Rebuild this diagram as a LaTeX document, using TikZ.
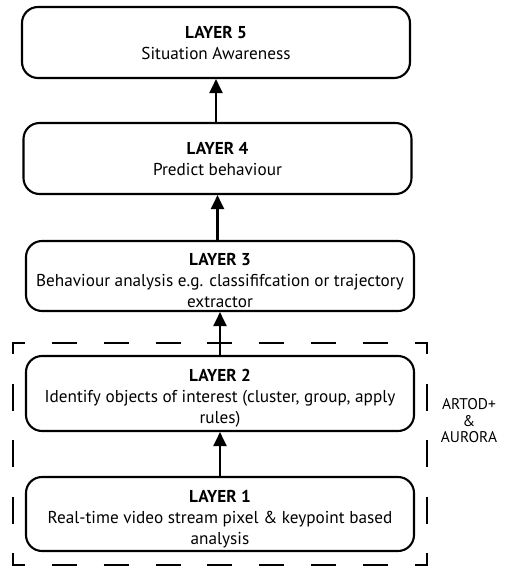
\documentclass[tikz,border=0pt]{standalone}
\usepackage{fontspec}
\setmainfont{PT Sans}
\usetikzlibrary{arrows.meta}
% taller first line, which lowers a three-line block inside its box
\newcommand\firstlinepad{\rule{0pt}{22pt}}
\begin{document}
\begin{tikzpicture}[x=1pt,y=-1pt,
  layerbox/.style={draw, line width=2.1pt, rounded corners=16pt, minimum width=388pt,
    inner sep=0pt, align=center, font=\fontsize{17.2}{21}\selectfont},
  uparrow/.style={line width=2.1pt, -{Triangle[width=13pt,length=14pt]}},
  hdash/.style={line width=2.1pt, dash pattern=on 25pt off 26.9pt, dash phase=13pt},
  vdash/.style={line width=2.1pt, dash pattern=on 27pt off 29.5pt, dash phase=15.5pt},
  sidelabel/.style={align=center, font=\fontsize{15.5}{16.5}\selectfont, inner sep=0pt}]
\useasboundingbox (0,0) rectangle (504,568);

% the group holding layers 1 and 2
\node[minimum width=414pt, minimum height=222pt, inner sep=0pt] (grp) at (220,454) {};
\draw[hdash] (grp.north west) -- (grp.north east);
\draw[hdash] (grp.south west) -- (grp.south east);
\draw[vdash] (grp.north west) -- (grp.south west);
\draw[vdash] (grp.north east) -- (grp.south east);
\fill (grp.north west) ++(-1.05,-1.05) rectangle ++(2.1,2.1);
\fill (grp.north east) ++(-1.05,-1.05) rectangle ++(2.1,2.1);
\fill (grp.south west) ++(-1.05,-1.05) rectangle ++(2.1,2.1);
\fill (grp.south east) ++(-1.05,-1.05) rectangle ++(2.1,2.1);

% the five layers
\node[layerbox, minimum height=71pt] (l5) at (216,42.5) {\textbf{LAYER 5}\\Situation Awareness};
\node[layerbox, minimum height=71pt] (l4) at (217.5,158.5) {\textbf{LAYER 4}\\Predict behaviour};
\node[layerbox, minimum height=70pt] (l3) at (220,276) {\firstlinepad\textbf{LAYER 3}\\Behaviour analysis e.g. classififcation or trajectory\\extractor};
\node[layerbox, minimum height=75pt] (l2) at (220,393.5) {\firstlinepad\textbf{LAYER 2}\\Identify objects of interest (cluster, group, apply\\rules)};
\node[layerbox, minimum height=74pt] (l1) at (220,514) {\firstlinepad\textbf{LAYER 1}\\Real-time video stream pixel \& keypoint based\\analysis};

% label beside the group
\node[sidelabel] (lbl) at (469,421) {ARTOD+\\\&\\AURORA};

% upward connections
\draw[uparrow] (l1.north) -- (l2.south);
\draw[uparrow] (l2.north) -- (l3.south);
\draw[uparrow] (l3.north -| l4.north) -- (l4.south);
\draw[uparrow] (l4.north -| l5.north) -- (l5.south);
\end{tikzpicture}
\end{document}
